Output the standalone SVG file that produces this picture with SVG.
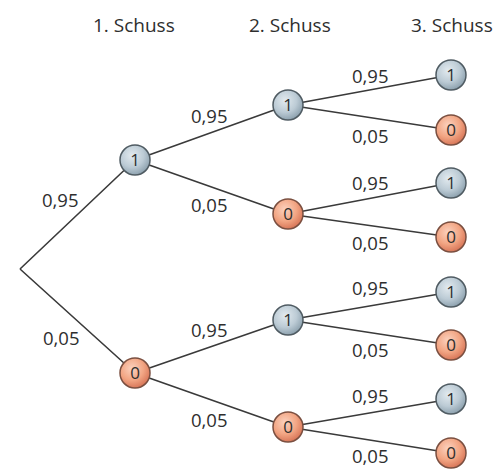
<svg xmlns="http://www.w3.org/2000/svg" width="498" height="470" viewBox="0 0 498 470">
<defs>
<radialGradient id="gb" cx="40%" cy="35%" r="65%">
<stop offset="0" stop-color="#e2eaef"/>
<stop offset="0.6" stop-color="#bccbd5"/>
<stop offset="1" stop-color="#8fa3b0"/>
</radialGradient>
<radialGradient id="go" cx="40%" cy="35%" r="65%">
<stop offset="0" stop-color="#fbd2bf"/>
<stop offset="0.6" stop-color="#f2a583"/>
<stop offset="1" stop-color="#d9785a"/>
</radialGradient>
</defs>
<style>
text{font-family:"Open Sans","Noto Sans","Liberation Sans",sans-serif;fill:#2e2e2e;}
.h{font-size:19px;}
.p{font-size:18.5px;}
.n{font-size:17px;text-anchor:middle;}
.b{fill:url(#gb);stroke:#4f5b62;stroke-width:1.5;}
.o{fill:url(#go);stroke:#7a4f40;stroke-width:1.5;}
.e{stroke:#3a3a3a;stroke-width:1.6;fill:none;}
</style>
<rect width="498" height="470" fill="#ffffff"/>
<g id="headers">
<text class="h" x="93" y="32">1. Schuss</text>
<text class="h" x="249" y="32">2. Schuss</text>
<text class="h" x="411" y="32">3. Schuss</text>
</g>
<g id="connectors">
<path class="e" d="M20 269L135 160M20 269L135 373"/>
<path class="e" d="M135 160L288 105M135 160L288 214M135 373L288 320M135 373L288 427"/>
<path class="e" d="M288 105L451 75M288 105L451 130M288 214L451 183M288 214L451 237M288 320L451 292M288 320L451 345M288 427L451 399M288 427L451 453"/>
</g>
<g id="labels">
<text class="p" x="42" y="207">0,95</text>
<text class="p" x="43" y="345">0,05</text>
<text class="p" x="191" y="123">0,95</text>
<text class="p" x="191" y="212">0,05</text>
<text class="p" x="191" y="337">0,95</text>
<text class="p" x="191" y="427">0,05</text>
<text class="p" x="352" y="83">0,95</text>
<text class="p" x="352" y="143">0,05</text>
<text class="p" x="352" y="190">0,95</text>
<text class="p" x="352" y="250">0,05</text>
<text class="p" x="352" y="295">0,95</text>
<text class="p" x="352" y="357">0,05</text>
<text class="p" x="352" y="403">0,95</text>
<text class="p" x="352" y="463">0,05</text>
</g>
<g id="n1"><circle class="b" cx="135" cy="160" r="15"/><text class="n" x="135" y="166">1</text></g>
<g id="n0"><circle class="o" cx="135" cy="373" r="15"/><text class="n" x="135" y="379">0</text></g>
<g id="n11"><circle class="b" cx="288" cy="105" r="15"/><text class="n" x="288" y="111">1</text></g>
<g id="n10"><circle class="o" cx="288" cy="214" r="15"/><text class="n" x="288" y="220">0</text></g>
<g id="n01"><circle class="b" cx="288" cy="320" r="15"/><text class="n" x="288" y="326">1</text></g>
<g id="n00"><circle class="o" cx="288" cy="427" r="15"/><text class="n" x="288" y="433">0</text></g>
<g id="n111"><circle class="b" cx="451" cy="75" r="15"/><text class="n" x="451" y="81">1</text></g>
<g id="n110"><circle class="o" cx="451" cy="130" r="15"/><text class="n" x="451" y="136">0</text></g>
<g id="n101"><circle class="b" cx="451" cy="183" r="15"/><text class="n" x="451" y="189">1</text></g>
<g id="n100"><circle class="o" cx="451" cy="237" r="15"/><text class="n" x="451" y="243">0</text></g>
<g id="n011"><circle class="b" cx="451" cy="292" r="15"/><text class="n" x="451" y="298">1</text></g>
<g id="n010"><circle class="o" cx="451" cy="345" r="15"/><text class="n" x="451" y="351">0</text></g>
<g id="n001"><circle class="b" cx="451" cy="399" r="15"/><text class="n" x="451" y="405">1</text></g>
<g id="n000"><circle class="o" cx="451" cy="453" r="15"/><text class="n" x="451" y="459">0</text></g>
</svg>
